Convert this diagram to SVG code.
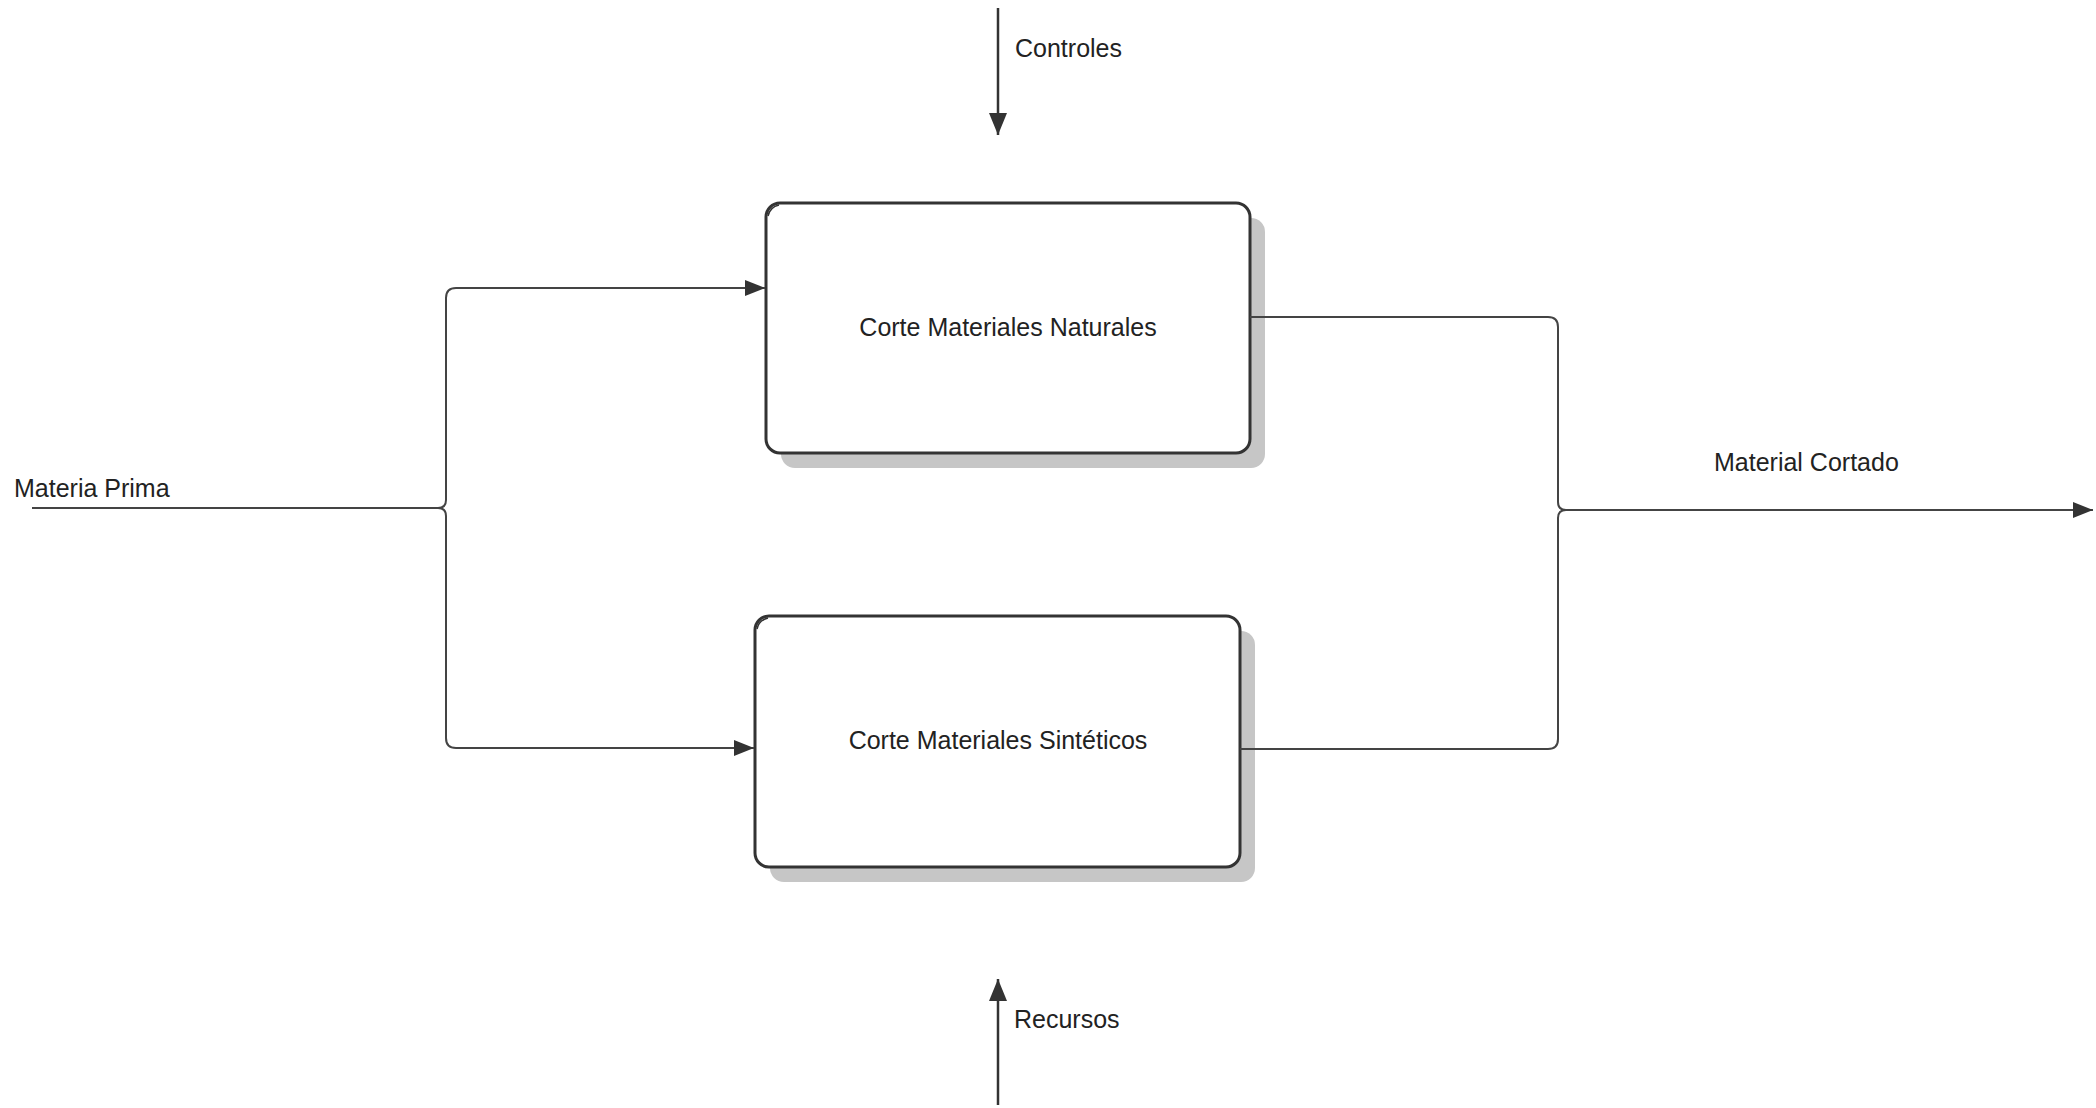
<svg xmlns="http://www.w3.org/2000/svg" width="2096" height="1108" viewBox="0 0 2096 1108">
  <style>
    .box { fill: #ffffff; stroke: #333333; stroke-width: 3; }
    .shadow { fill: #c6c6c6; stroke: none; }
    .curl { fill: none; stroke: #333333; stroke-width: 1.5; }
    .lbl { font-family: "Liberation Sans", Arial, sans-serif; font-size: 25px; fill: #222222; }
    .wire { fill: none; stroke: #444444; stroke-width: 2; }
    .ctl { fill: none; stroke: #333333; stroke-width: 2.5; }
  </style>
  <defs>
    <marker id="arrow" viewBox="0 0 20 16" refX="20" refY="8" markerWidth="20" markerHeight="16" markerUnits="userSpaceOnUse" orient="auto">
      <path d="M0,0 L20,8 L0,16 Z" fill="#333333"/>
    </marker>
    <marker id="arrowBig" viewBox="0 0 22 18" refX="22" refY="9" markerWidth="22" markerHeight="18" markerUnits="userSpaceOnUse" orient="auto">
      <path d="M0,0 L22,9 L0,18 Z" fill="#333333"/>
    </marker>
  </defs>

  <rect width="2096" height="1108" fill="#ffffff"/>

  <!-- process: natural materials -->
  <g id="node-naturales">
    <rect class="shadow" x="781" y="218" width="484" height="250" rx="14"/>
    <rect class="box" x="766" y="203" width="484" height="250" rx="14"/>
    <path class="curl" d="M768,216 Q770,207 779,205"/>
    <text class="lbl" x="1008" y="336" text-anchor="middle">Corte Materiales Naturales</text>
  </g>

  <!-- process: synthetic materials -->
  <g id="node-sinteticos">
    <rect class="shadow" x="770" y="631" width="485" height="251" rx="14"/>
    <rect class="box" x="755" y="616" width="485" height="251" rx="14"/>
    <path class="curl" d="M757,629 Q759,620 768,618"/>
    <text class="lbl" x="998" y="749" text-anchor="middle">Corte Materiales Sintéticos</text>
  </g>

  <!-- flows -->
  <g id="connectors">
    <!-- raw material input, split to both processes -->
    <path class="wire" d="M32,508 L438,508"/>
    <path class="wire" marker-end="url(#arrow)" d="M438,508 Q446,508 446,500 L446,298 Q446,288 456,288 L765,288"/>
    <path class="wire" marker-end="url(#arrow)" d="M438,508 Q446,508 446,516 L446,738 Q446,748 456,748 L754,748"/>
    <!-- outputs merged into cut material -->
    <path class="wire" d="M1250,317 L1548,317 Q1558,317 1558,327 L1558,502 Q1558,510 1566,510"/>
    <path class="wire" d="M1240,749 L1548,749 Q1558,749 1558,739 L1558,518 Q1558,510 1566,510"/>
    <path class="wire" marker-end="url(#arrow)" d="M1566,510 L2093,510"/>
    <!-- controls and resources -->
    <path class="ctl" marker-end="url(#arrowBig)" d="M998,8 L998,135"/>
    <path class="ctl" marker-end="url(#arrowBig)" d="M998,1105 L998,979"/>
  </g>

  <!-- flow labels -->
  <g id="labels">
    <text class="lbl" x="14" y="497">Materia Prima</text>
    <text class="lbl" x="1714" y="471">Material Cortado</text>
    <text class="lbl" x="1015" y="57">Controles</text>
    <text class="lbl" x="1014" y="1028">Recursos</text>
  </g>
</svg>
